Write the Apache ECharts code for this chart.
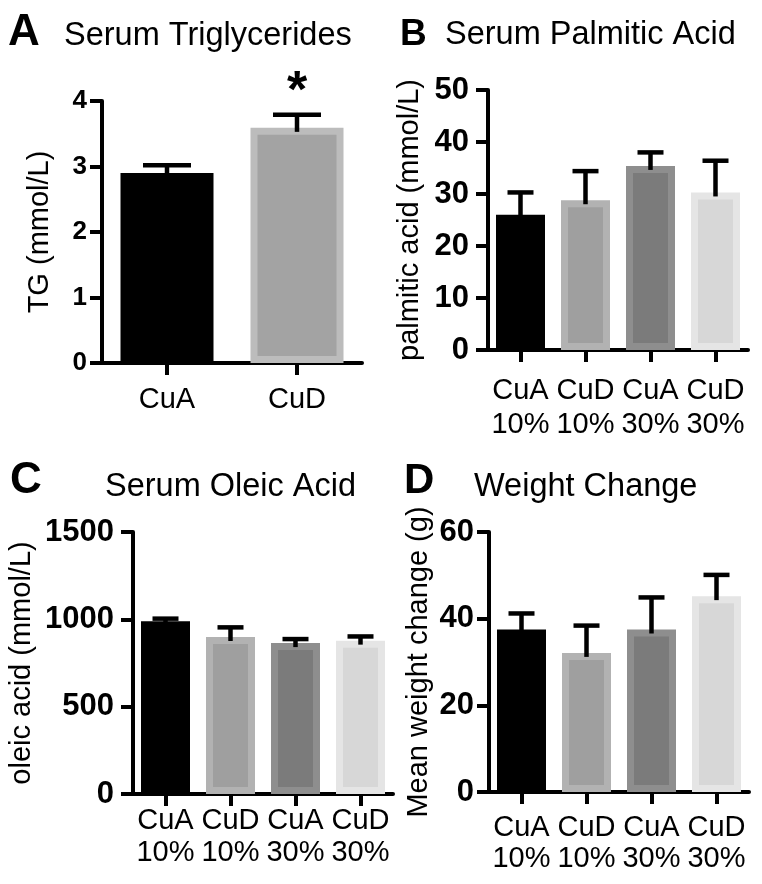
<!DOCTYPE html>
<html><head><meta charset="utf-8">
<script src="https://cdn.jsdelivr.net/npm/echarts@6/dist/echarts.min.js"></script>
<style>html,body{margin:0;padding:0;background:#fff}#c{width:762px;height:884px}</style>
</head><body><div id="c"></div>
<script>
// ---- data ----
const catsA = ['CuA', 'CuD'];
const meanA = [2.90, 3.59];
const upperA = [3.02, 3.79];
const sigA = ['', '*'];
const ticksA = [0, 4, 1];

const cats4 = ['CuA\n10%', 'CuD\n10%', 'CuA\n30%', 'CuD\n30%'];
const meanB = [26.0, 28.8, 35.4, 30.3];
const upperB = [30.3, 34.4, 38.0, 36.4];
const ticksB = [0, 50, 10];

const meanC = [989, 899, 864, 878];
const upperC = [1004, 954, 887, 902];
const ticksC = [0, 1500, 500];

const meanD = [37.5, 32.1, 37.5, 45.2];
const upperD = [41.2, 38.4, 44.9, 50.1];
const ticksD = [0, 60, 20];

// ---- styles ----
const fillA = ['#000000', '#a3a3a3'];
const edgeA = ['#000000', '#bcbcbc'];
const fill4 = ['#000000', '#9f9f9f', '#7b7b7b', '#d7d7d7'];
const edge4 = ['#000000', '#b2b2b2', '#8e8e8e', '#e5e5e5'];
const FF = '"Liberation Sans", Arial, sans-serif';

const panels = [
  {cats: catsA, mean: meanA, upper: upperA, sig: sigA, ticks: ticksA, fill: fillA, edge: edgeA,
   grid: {left: 102, top: 101, width: 260, height: 262}, barWidth: 93, cap: 24,
   yName: 'TG (mmol/L)', nameGap: 48, tickFont: 26, tickMargin: 15, catMargin: 22, catLH: 29},
  {cats: cats4, mean: meanB, upper: upperB, sig: null, ticks: ticksB, fill: fill4, edge: edge4,
   grid: {left: 488, top: 90, width: 260, height: 260}, barWidth: 49, cap: 13,
   yName: 'palmitic acid (mmol/L)', nameGap: 64, tickFont: 31, tickMargin: 19, catMargin: 24, catLH: 34},
  {cats: cats4, mean: meanC, upper: upperC, sig: null, ticks: ticksC, fill: fill4, edge: edge4,
   grid: {left: 133, top: 532, width: 260, height: 262}, barWidth: 49, cap: 13,
   yName: 'oleic acid (mmol/L)', nameGap: 97, tickFont: 31, tickMargin: 19, catMargin: 11, catLH: 32},
  {cats: cats4, mean: meanD, upper: upperD, sig: null, ticks: ticksD, fill: fill4, edge: edge4,
   grid: {left: 489, top: 532, width: 260, height: 260}, barWidth: 49, cap: 13,
   yName: 'Mean weight change (g)', nameGap: 56, tickFont: 31, tickMargin: 15, catMargin: 20, catLH: 31}
];

const grids = [], xAxes = [], yAxes = [], series = [];
const axisLine = {show: true, lineStyle: {color: '#000', width: 4}};
panels.forEach((p, i) => {
  grids.push(Object.assign({containLabel: false}, p.grid));
  xAxes.push({
    type: 'category', gridIndex: i, data: p.cats,
    axisLine: axisLine,
    axisTick: {show: true, alignWithLabel: true, length: 12, lineStyle: {color: '#000', width: 4}},
    axisLabel: {color: '#000', fontSize: 29, fontFamily: FF, margin: p.catMargin, lineHeight: p.catLH, interval: 0},
    splitLine: {show: false}
  });
  yAxes.push({
    type: 'value', gridIndex: i, min: p.ticks[0], max: p.ticks[1], interval: p.ticks[2],
    name: p.yName, nameLocation: 'middle', nameGap: p.nameGap,
    nameTextStyle: {color: '#000', fontSize: 29, fontFamily: FF},
    axisLine: axisLine,
    axisTick: {show: true, length: 12, lineStyle: {color: '#000', width: 4}},
    axisLabel: {color: '#000', fontSize: p.tickFont, fontWeight: 'bold', fontFamily: FF, margin: p.tickMargin,
      formatter: v => String(v)},
    splitLine: {show: false}
  });
  series.push({
    type: 'bar', xAxisIndex: i, yAxisIndex: i, barWidth: p.barWidth,
    data: p.mean.map((v, k) => ({value: v, itemStyle: {color: p.fill[k], borderColor: p.edge[k], borderWidth: 7}})),
    z: 2
  });
  const sig = p.sig;
  const cap = p.cap;
  series.push({
    type: 'custom', xAxisIndex: i, yAxisIndex: i, z: 5,
    data: p.mean.map((v, k) => [k, v, p.upper[k]]),
    renderItem: function (params, api) {
      const base = api.coord([api.value(0), api.value(1)]);
      const top = api.coord([api.value(0), api.value(2)]);
      const st = {stroke: '#000', lineWidth: 4.5};
      const children = [
        {type: 'line', shape: {x1: base[0], y1: base[1] + 4, x2: top[0], y2: top[1]}, style: st},
        {type: 'line', shape: {x1: top[0] - cap, y1: top[1], x2: top[0] + cap, y2: top[1]}, style: st}
      ];
      if (sig && sig[params.dataIndex]) {
        children.push({type: 'text', style: {text: sig[params.dataIndex], x: top[0], y: top[1] + 4,
          fill: '#000', font: 'bold 52px ' + FF, textAlign: 'center', textVerticalAlign: 'bottom'}});
      }
      return {type: 'group', children: children};
    }
  });
});

const titleStyle = (size, bold) => ({color: '#000', fontSize: size, fontWeight: bold ? 'bold' : 'normal', fontFamily: FF});
const titles = [
  {text: 'A', left: 8, top: 11, padding: 0, textStyle: titleStyle(44, true)},
  {text: 'Serum Triglycerides', left: 64, top: 20, padding: 0, textStyle: titleStyle(32.5, false)},
  {text: 'B', left: 400, top: 16, padding: 0, textStyle: titleStyle(37, true)},
  {text: 'Serum Palmitic Acid', left: 445, top: 19, padding: 0, textStyle: titleStyle(32.5, false)},
  {text: 'C', left: 10, top: 459, padding: 0, textStyle: titleStyle(44, true)},
  {text: 'Serum Oleic Acid', left: 105, top: 471, padding: 0, textStyle: titleStyle(32.5, false)},
  {text: 'D', left: 404, top: 460, padding: 0, textStyle: titleStyle(42, true)},
  {text: 'Weight Change', left: 474, top: 471, padding: 0, textStyle: titleStyle(32.5, false)}
];

const chart = echarts.init(document.getElementById('c'), null, {renderer: 'canvas'});
chart.setOption({
  animation: false,
  backgroundColor: '#fff',
  title: titles,
  grid: grids, xAxis: xAxes, yAxis: yAxes, series: series
});
</script></body></html>
